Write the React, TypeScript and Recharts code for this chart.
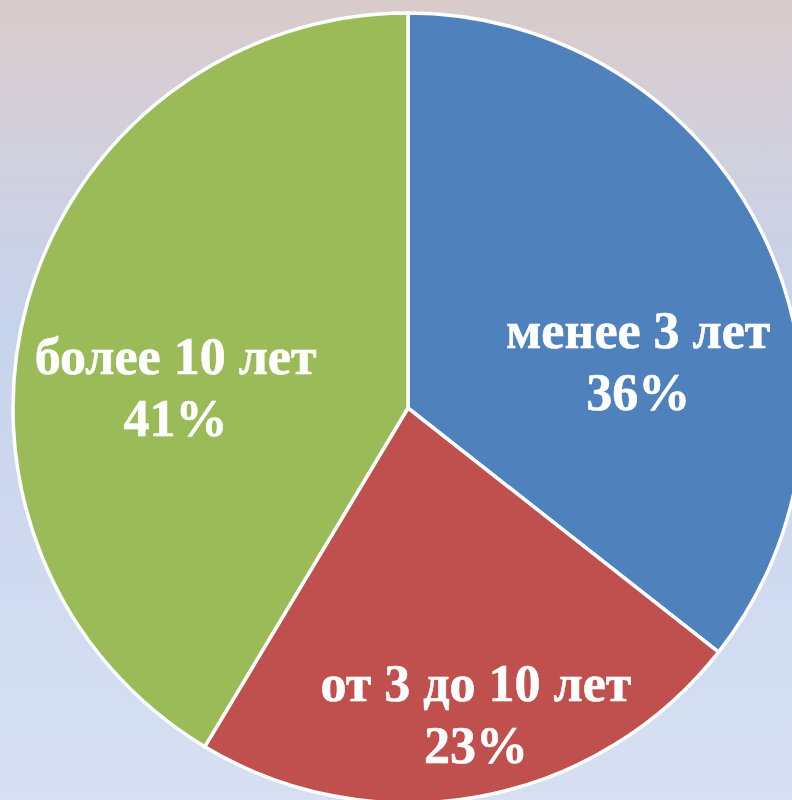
import { Cell, Pie, PieChart } from "recharts";

const categories = ["менее 3 лет", "от 3 до 10 лет", "более 10 лет"];
const values = [35.6, 23.0, 41.4];

const COLORS = ["#4F81BD", "#C0504D", "#9BBB59"];
// nudges from the default mid-angle spot, to sit where Excel put them
const LABEL_NUDGE = [
  { dx: 17, dy: 75 },
  { dx: 25, dy: 91 },
  { dx: -4, dy: 60 },
];

const RADIAN = Math.PI / 180;

const chartData = categories.map((name, i) => ({ name, value: values[i] }));

function renderLabel(props: any) {
  const { cx, cy, midAngle, outerRadius, index, percent, name } = props;
  const r = outerRadius * 0.6;
  const nudge = LABEL_NUDGE[index] ?? { dx: 0, dy: 0 };
  const x = cx + r * Math.cos(-midAngle * RADIAN) + nudge.dx;
  const y = cy + r * Math.sin(-midAngle * RADIAN) + nudge.dy;
  return (
    <text
      x={x}
      y={y}
      fill="#ffffff"
      textAnchor="middle"
      fontFamily="'Liberation Serif', 'Times New Roman', serif"
      fontWeight={700}
      fontSize={52}
      stroke="#ffffff"
      strokeWidth={0.6}
    >
      <tspan x={x} dy={-31}>
        {name}
      </tspan>
      <tspan x={x} dy={62}>
        {`${Math.round(percent * 100)}%`}
      </tspan>
    </text>
  );
}

export default function App() {
  return (
    <div
      style={{
        position: "absolute",
        top: 0,
        left: 0,
        width: 792,
        height: 800,
        overflow: "hidden",
        background:
          "linear-gradient(to bottom, #d9cbca 0%, #d3cfda 15%, #c6d3ec 40%, #cfdaf0 70%, #d7e0f2 100%)",
      }}
    >
      <PieChart width={792} height={800} margin={{ top: 0, right: 0, bottom: 0, left: 0 }}>
        <Pie
          data={chartData}
          dataKey="value"
          nameKey="name"
          cx={408}
          cy={408}
          outerRadius={395}
          startAngle={90}
          endAngle={-270}
          stroke="#ffffff"
          strokeWidth={3.5}
          label={renderLabel}
          labelLine={false}
          isAnimationActive={false}
        >
          {chartData.map((_, index) => (
            <Cell key={`cell-${index}`} fill={COLORS[index % COLORS.length]} />
          ))}
        </Pie>
      </PieChart>
    </div>
  );
}
